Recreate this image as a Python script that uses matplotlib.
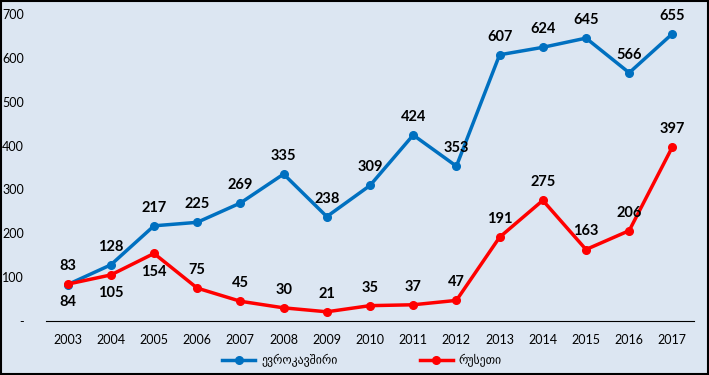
import matplotlib
matplotlib.use('Agg')
import matplotlib.pyplot as plt

years = ['2003', '2004', '2005', '2006', '2007', '2008', '2009', '2010',
         '2011', '2012', '2013', '2014', '2015', '2016', '2017']
eu = [83, 128, 217, 225, 269, 335, 238, 309, 424, 353, 607, 624, 645, 566, 655]
ru = [84, 105, 154, 75, 45, 30, 21, 35, 37, 47, 191, 275, 163, 206, 397]
ru_below = [True, True, True] + [False] * 12

fam = ['Lato', 'DejaVu Sans']
plt.rcParams['font.family'] = fam
bg = '#dce6f2'

fig = plt.figure(figsize=(7.09, 3.75), dpi=100, facecolor=bg)
ax = fig.add_axes([46 / 709, 1 - 321 / 375, 648 / 709, 307 / 375])
ax.set_facecolor(bg)
x = range(len(years))

ax.plot(x, eu, color='#0070c0', lw=2.5, marker='o', ms=5.5, label='ევროკავშირი')
ax.plot(x, ru, color='#ff0000', lw=2.5, marker='o', ms=5.5, label='რუსეთი')

for i, v in enumerate(eu):
    ax.annotate(str(v), (i, v), xytext=(0, 8), textcoords='offset points',
                ha='center', va='bottom', fontsize=10.5, fontweight='bold')
for i, v in enumerate(ru):
    if ru_below[i]:
        ax.annotate(str(v), (i, v), xytext=(0, -8), textcoords='offset points',
                    ha='center', va='top', fontsize=10.5, fontweight='bold')
    else:
        ax.annotate(str(v), (i, v), xytext=(0, 8), textcoords='offset points',
                    ha='center', va='bottom', fontsize=10.5, fontweight='bold')

ax.set_xlim(-0.5, len(years) - 0.5)
ax.set_ylim(0, 700)
ax.set_xticks(list(x))
ax.set_xticklabels(years)
ax.set_yticks(range(0, 701, 100))
ax.set_yticklabels(['-'] + [str(v) for v in range(100, 701, 100)])
ax.tick_params(length=0, labelsize=9)
ax.tick_params(axis='x', pad=9)
ax.tick_params(axis='y', pad=16)
for s in ['top', 'right', 'left']:
    ax.spines[s].set_visible(False)
ax.spines['bottom'].set_color('black')

fig.legend(loc='center', bbox_to_anchor=(362 / 709, 1 - 360 / 375), ncol=2,
           frameon=False, fontsize=8.5, columnspacing=7, handlelength=2.8,
           handletextpad=0.5)

fig.patches.append(plt.Rectangle((0.001, 0.002), 0.997, 0.996, transform=fig.transFigure,
                                 fill=False, edgecolor='black', lw=1.5))
fig.savefig('out.png', dpi=100, facecolor=bg)
